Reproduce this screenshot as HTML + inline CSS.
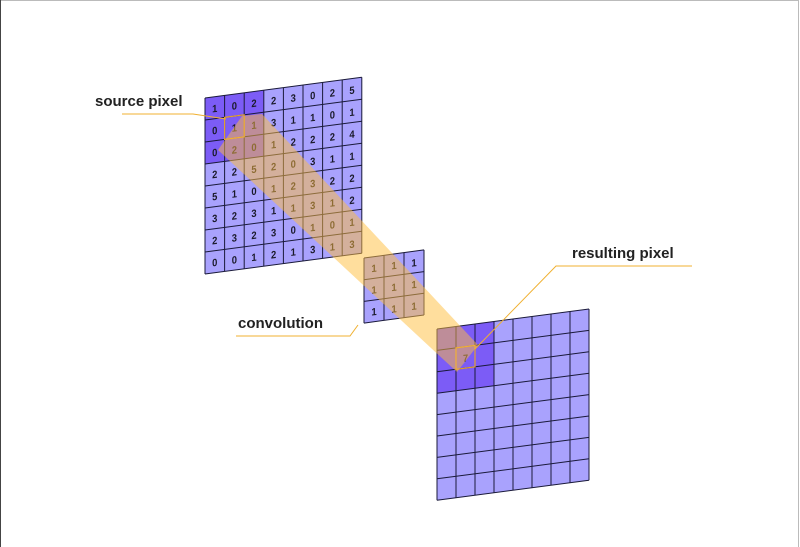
<!DOCTYPE html>
<html><head><meta charset="utf-8"><style>
html,body{margin:0;padding:0;background:#fff}
svg{display:block}
text{font-family:"Liberation Sans",sans-serif}
.g line{stroke:#1a1a3a;stroke-width:1;vector-effect:non-scaling-stroke}
.n{font-size:0.48px;text-anchor:middle;fill:#1a1a2a;font-weight:bold}
.lbl{font-size:15px;fill:#222;font-weight:bold}
</style></head><body>
<svg width="800" height="547" viewBox="0 0 800 547" xmlns="http://www.w3.org/2000/svg">
<rect x="0.5" y="0.5" width="798" height="560" fill="#fff" stroke="#bbb"/>
<line x1="0.5" y1="0" x2="0.5" y2="547" stroke="#444"/>

<g class="g" transform="matrix(19.6,-2.6,0,22,205,98)">
<rect x="0" y="0" width="8" height="8" fill="#a9a2fd"/>
<rect x="0" y="0" width="3" height="3" fill="#7c5cf6"/>
<line x1="0" y1="0" x2="8" y2="0"/><line x1="0" y1="1" x2="8" y2="1"/><line x1="0" y1="2" x2="8" y2="2"/><line x1="0" y1="3" x2="8" y2="3"/><line x1="0" y1="4" x2="8" y2="4"/><line x1="0" y1="5" x2="8" y2="5"/><line x1="0" y1="6" x2="8" y2="6"/><line x1="0" y1="7" x2="8" y2="7"/><line x1="0" y1="8" x2="8" y2="8"/>
<line x1="0" y1="0" x2="0" y2="8"/><line x1="1" y1="0" x2="1" y2="8"/><line x1="2" y1="0" x2="2" y2="8"/><line x1="3" y1="0" x2="3" y2="8"/><line x1="4" y1="0" x2="4" y2="8"/><line x1="5" y1="0" x2="5" y2="8"/><line x1="6" y1="0" x2="6" y2="8"/><line x1="7" y1="0" x2="7" y2="8"/><line x1="8" y1="0" x2="8" y2="8"/>
<text class="n" x="0.5" y="0.7">1</text><text class="n" x="1.5" y="0.7">0</text><text class="n" x="2.5" y="0.7">2</text><text class="n" x="3.5" y="0.7">2</text><text class="n" x="4.5" y="0.7">3</text><text class="n" x="5.5" y="0.7">0</text><text class="n" x="6.5" y="0.7">2</text><text class="n" x="7.5" y="0.7">5</text>
<text class="n" x="0.5" y="1.7">0</text><text class="n" x="1.5" y="1.7">1</text><text class="n" x="2.5" y="1.7">1</text><text class="n" x="3.5" y="1.7">3</text><text class="n" x="4.5" y="1.7">1</text><text class="n" x="5.5" y="1.7">1</text><text class="n" x="6.5" y="1.7">0</text><text class="n" x="7.5" y="1.7">1</text>
<text class="n" x="0.5" y="2.7">0</text><text class="n" x="1.5" y="2.7">2</text><text class="n" x="2.5" y="2.7">0</text><text class="n" x="3.5" y="2.7">1</text><text class="n" x="4.5" y="2.7">2</text><text class="n" x="5.5" y="2.7">2</text><text class="n" x="6.5" y="2.7">2</text><text class="n" x="7.5" y="2.7">4</text>
<text class="n" x="0.5" y="3.7">2</text><text class="n" x="1.5" y="3.7">2</text><text class="n" x="2.5" y="3.7">5</text><text class="n" x="3.5" y="3.7">2</text><text class="n" x="4.5" y="3.7">0</text><text class="n" x="5.5" y="3.7">3</text><text class="n" x="6.5" y="3.7">1</text><text class="n" x="7.5" y="3.7">1</text>
<text class="n" x="0.5" y="4.7">5</text><text class="n" x="1.5" y="4.7">1</text><text class="n" x="2.5" y="4.7">0</text><text class="n" x="3.5" y="4.7">1</text><text class="n" x="4.5" y="4.7">2</text><text class="n" x="5.5" y="4.7">3</text><text class="n" x="6.5" y="4.7">2</text><text class="n" x="7.5" y="4.7">2</text>
<text class="n" x="0.5" y="5.7">3</text><text class="n" x="1.5" y="5.7">2</text><text class="n" x="2.5" y="5.7">3</text><text class="n" x="3.5" y="5.7">1</text><text class="n" x="4.5" y="5.7">1</text><text class="n" x="5.5" y="5.7">3</text><text class="n" x="6.5" y="5.7">1</text><text class="n" x="7.5" y="5.7">2</text>
<text class="n" x="0.5" y="6.7">2</text><text class="n" x="1.5" y="6.7">3</text><text class="n" x="2.5" y="6.7">2</text><text class="n" x="3.5" y="6.7">3</text><text class="n" x="4.5" y="6.7">0</text><text class="n" x="5.5" y="6.7">1</text><text class="n" x="6.5" y="6.7">0</text><text class="n" x="7.5" y="6.7">1</text>
<text class="n" x="0.5" y="7.7">0</text><text class="n" x="1.5" y="7.7">0</text><text class="n" x="2.5" y="7.7">1</text><text class="n" x="3.5" y="7.7">2</text><text class="n" x="4.5" y="7.7">1</text><text class="n" x="5.5" y="7.7">3</text><text class="n" x="6.5" y="7.7">1</text><text class="n" x="7.5" y="7.7">3</text>
<rect x="1" y="1" width="1" height="1" fill="none" stroke="#e0a030" stroke-width="1.2" vector-effect="non-scaling-stroke"/>
</g>

<g class="g" transform="matrix(20,-2.7,0,21.7,364,258)">
<rect x="0" y="0" width="3" height="3" fill="#a9a2fd"/>
<line x1="0" y1="0" x2="3" y2="0"/><line x1="0" y1="1" x2="3" y2="1"/><line x1="0" y1="2" x2="3" y2="2"/><line x1="0" y1="3" x2="3" y2="3"/>
<line x1="0" y1="0" x2="0" y2="3"/><line x1="1" y1="0" x2="1" y2="3"/><line x1="2" y1="0" x2="2" y2="3"/><line x1="3" y1="0" x2="3" y2="3"/>
<text class="n" x="0.5" y="0.7">1</text><text class="n" x="1.5" y="0.7">1</text><text class="n" x="2.5" y="0.7">1</text>
<text class="n" x="0.5" y="1.7">1</text><text class="n" x="1.5" y="1.7">1</text><text class="n" x="2.5" y="1.7">1</text>
<text class="n" x="0.5" y="2.7">1</text><text class="n" x="1.5" y="2.7">1</text><text class="n" x="2.5" y="2.7">1</text>
</g>

<g class="g" transform="matrix(19,-2.5,0,21.4,437,329)">
<rect x="0" y="0" width="8" height="8" fill="#a9a2fd"/>
<rect x="0" y="0" width="3" height="3" fill="#7c5cf6"/>
<line x1="0" y1="0" x2="8" y2="0"/><line x1="0" y1="1" x2="8" y2="1"/><line x1="0" y1="2" x2="8" y2="2"/><line x1="0" y1="3" x2="8" y2="3"/><line x1="0" y1="4" x2="8" y2="4"/><line x1="0" y1="5" x2="8" y2="5"/><line x1="0" y1="6" x2="8" y2="6"/><line x1="0" y1="7" x2="8" y2="7"/><line x1="0" y1="8" x2="8" y2="8"/>
<line x1="0" y1="0" x2="0" y2="8"/><line x1="1" y1="0" x2="1" y2="8"/><line x1="2" y1="0" x2="2" y2="8"/><line x1="3" y1="0" x2="3" y2="8"/><line x1="4" y1="0" x2="4" y2="8"/><line x1="5" y1="0" x2="5" y2="8"/><line x1="6" y1="0" x2="6" y2="8"/><line x1="7" y1="0" x2="7" y2="8"/><line x1="8" y1="0" x2="8" y2="8"/>
<text class="n" x="1.5" y="1.7">7</text>
<rect x="1" y="1" width="1" height="1" fill="none" stroke="#e0a030" stroke-width="1.2" vector-effect="non-scaling-stroke"/>
</g>

<polygon points="242,116 262,114 478,345 457,372 431,348 218,150" fill="#ffbe3c" fill-opacity="0.5"/>

<text class="lbl" x="95" y="106">source pixel</text>
<polyline points="122,114 193,114 226,119" fill="none" stroke="#f0b030" stroke-width="1"/>
<text class="lbl" x="238" y="328">convolution</text>
<polyline points="236,336 350,336 358,325" fill="none" stroke="#f0b030" stroke-width="1"/>
<text class="lbl" x="572" y="258">resulting pixel</text>
<polyline points="692,266 556,266 475,349" fill="none" stroke="#f0b030" stroke-width="1"/>
</svg>
</body></html>
